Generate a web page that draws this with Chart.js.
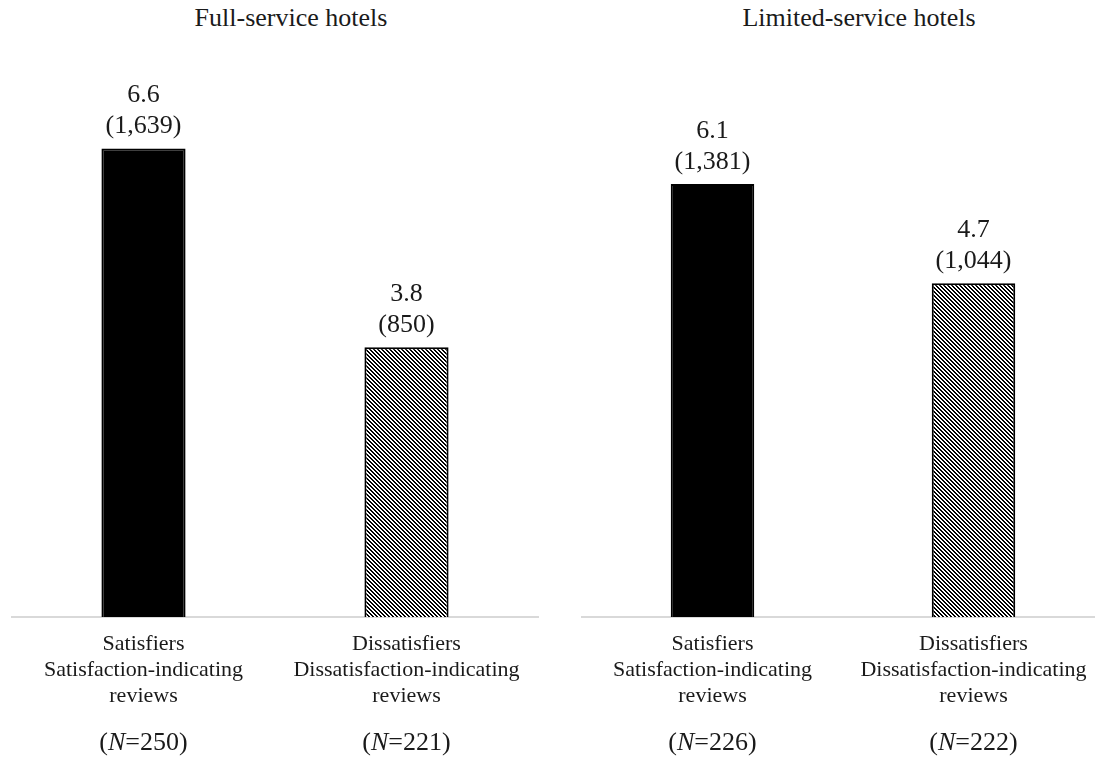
<!DOCTYPE html>
<html>
<head>
<meta charset="utf-8">
<script src="https://cdn.jsdelivr.net/npm/chart.js@4/dist/chart.umd.min.js"></script>
<style>
  body { margin: 0; background: #fff; overflow: hidden; }
  #wrap { position: relative; width: 1095px; height: 761px; overflow: hidden; }
  canvas { position: absolute; top: 0; }
  .ttl { position: absolute; top: 3px; font-family: "Liberation Serif", "Times New Roman", serif;
         font-size: 26px; line-height: 30px; color: #1a1a1a; white-space: nowrap; transform: translateX(-50%); }
</style>
</head>
<body>
<div id="wrap">
  <div class="ttl" id="t1" style="left:291px"></div>
  <div class="ttl" id="t2" style="left:859px"></div>
  <canvas id="full" width="550" height="761" style="left:0px"></canvas>
  <canvas id="limited" width="546" height="761" style="left:570px"></canvas>
</div>
<script>
const panelTitles = ["Full-service hotels", "Limited-service hotels"];
const categories = [
    ["Satisfiers", "Satisfaction-indicating", "reviews"],
    ["Dissatisfiers", "Dissatisfaction-indicating", "reviews"]
];
const fullValues = [6.6, 3.8];
const fullCounts = [1639, 850];
const fullN = [250, 221];
const limitedValues = [6.1, 4.7];
const limitedCounts = [1381, 1044];
const limitedN = [226, 222];

const serif = '"Liberation Serif", "Times New Roman", serif';
const ink = '#1a1a1a';

document.getElementById('t1').textContent = panelTitles[0];
document.getElementById('t2').textContent = panelTitles[1];

// diagonal black/white hatch for the dissatisfier bars
function makeHatch() {
    const c = document.createElement('canvas');
    c.width = 4; c.height = 4;
    const g = c.getContext('2d');
    g.fillStyle = '#fff';
    g.fillRect(0, 0, 4, 4);
    g.fillStyle = '#000';
    for (let x = 0; x < 4; x++) {
        for (let y = 0; y < 4; y++) {
            if (((x - y) % 4 + 4) % 4 < 2) g.fillRect(x, y, 1, 1);
        }
    }
    return g.createPattern(c, 'repeat');
}

// value + (count) above each bar, (N=..) under each category
const labelPlugin = {
    id: 'barLabels',
    afterDatasetsDraw(chart, args, opts) {
        const ctx = chart.ctx;
        const meta = chart.getDatasetMeta(0);
        const xScale = chart.scales.x;
        ctx.save();
        ctx.fillStyle = ink;
        ctx.textAlign = 'center';
        ctx.textBaseline = 'alphabetic';
        ctx.font = '26px ' + serif;
        meta.data.forEach((bar, i) => {
            ctx.fillText(opts.values[i].toFixed(1), bar.x, bar.y - 46);
            ctx.fillText('(' + opts.counts[i].toLocaleString('en-US') + ')', bar.x, bar.y - 15);
        });
        const y = chart.chartArea.bottom + 133;
        opts.n.forEach((n, i) => {
            const cx = xScale.getPixelForValue(i);
            const parts = [['(', 'normal'], ['N', 'italic'], ['=' + n + ')', 'normal']];
            let total = 0;
            parts.forEach(p => { ctx.font = p[1] + ' 26px ' + serif; total += ctx.measureText(p[0]).width; });
            let x = cx - total / 2;
            ctx.textAlign = 'left';
            parts.forEach(p => {
                ctx.font = p[1] + ' 26px ' + serif;
                ctx.fillText(p[0], x, y);
                x += ctx.measureText(p[0]).width;
            });
        });
        ctx.restore();
    }
};

function buildChart(id, values, counts, n) {
    const hatch = makeHatch();
    return new Chart(document.getElementById(id), {
        type: 'bar',
        data: {
            labels: categories,
            datasets: [{
                data: values,
                backgroundColor: ['#000000', hatch],
                borderColor: '#000000',
                borderWidth: 2,
                barPercentage: 0.32,
                categoryPercentage: 1
            }]
        },
        options: {
            responsive: false,
            animation: false,
            layout: { padding: { top: 49, bottom: 38, left: 12, right: 12 } },
            plugins: {
                legend: { display: false },
                tooltip: { enabled: false },
                barLabels: { values: values, counts: counts, n: n }
            },
            scales: {
                x: {
                    grid: { display: false, drawTicks: false },
                    border: { display: true, color: '#d9d9d9', width: 2 },
                    ticks: {
                        color: ink,
                        padding: 14,
                        maxRotation: 0,
                        autoSkip: false,
                        font: { family: serif, size: 22, lineHeight: 26 / 22 }
                    }
                },
                y: {
                    display: false,
                    min: 0,
                    max: 8
                }
            }
        },
        plugins: [labelPlugin]
    });
}

buildChart('full', fullValues, fullCounts, fullN);
buildChart('limited', limitedValues, limitedCounts, limitedN);
</script>
</body>
</html>
